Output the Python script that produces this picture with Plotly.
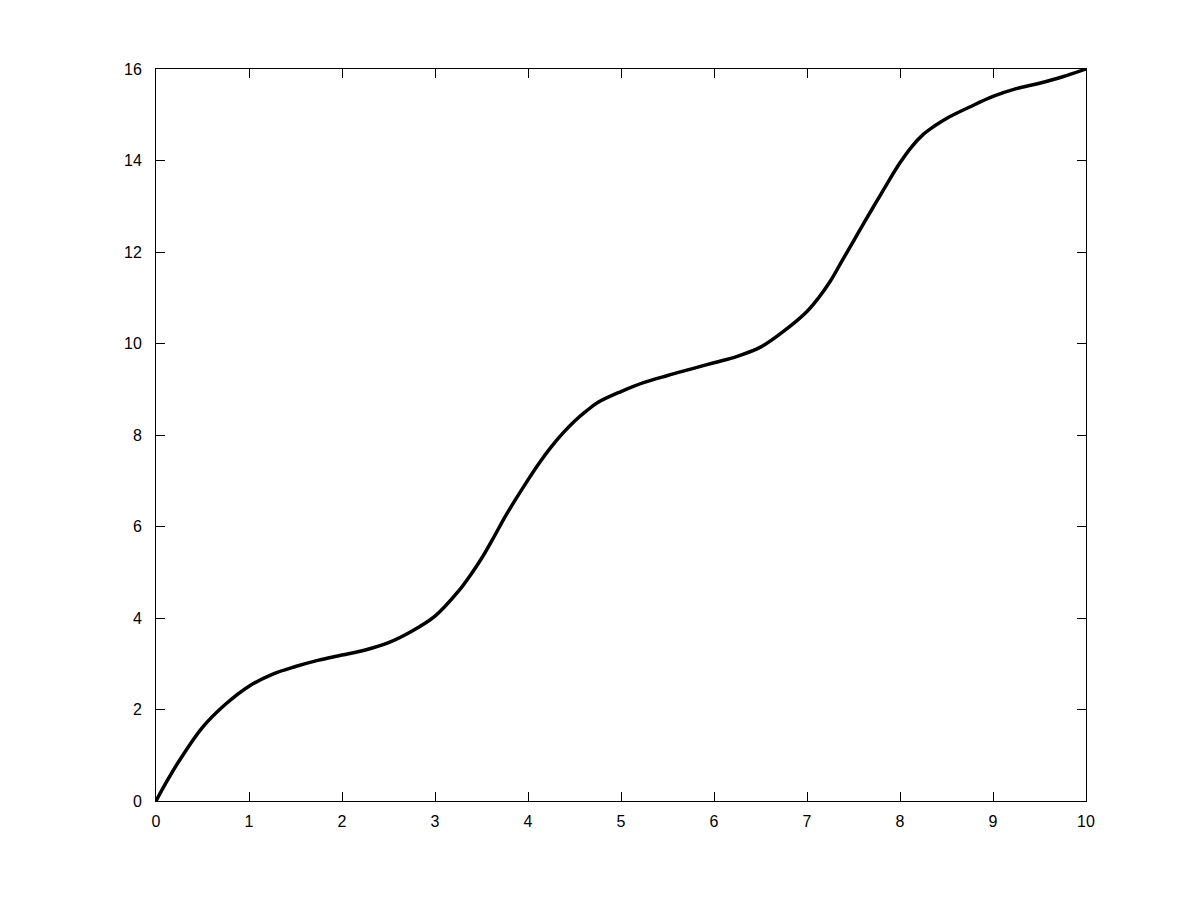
import plotly.graph_objects as go

x_vals = [0, 0.125, 0.25, 0.5, 0.75, 1, 1.25, 1.5, 1.75, 2, 2.25, 2.5, 2.75, 3, 3.25, 3.375, 3.5, 3.625, 3.75,
          3.875, 4, 4.125, 4.25, 4.375, 4.5, 4.625, 4.75, 5, 5.25, 5.5, 5.75, 6, 6.25, 6.5, 6.75, 7, 7.125, 7.25,
          7.375, 7.5, 7.625, 7.75, 7.875, 8, 8.125, 8.25, 8.375, 8.5, 8.75, 9, 9.25, 9.5, 9.75, 10]
y_vals = [0, 0.46, 0.88, 1.61, 2.12, 2.51, 2.77, 2.94, 3.08, 3.19, 3.30, 3.46, 3.71, 4.04, 4.58, 4.92, 5.30, 5.74, 6.20,
          6.62, 7.02, 7.40, 7.74, 8.04, 8.30, 8.52, 8.71, 8.95, 9.15, 9.30, 9.44, 9.58, 9.72, 9.92, 10.27, 10.70, 11.00, 11.36,
          11.80, 12.24, 12.68, 13.11, 13.54, 13.95, 14.30, 14.57, 14.76, 14.92, 15.17, 15.40, 15.57, 15.69, 15.83, 16.0]
x_ticks = [0, 1, 2, 3, 4, 5, 6, 7, 8, 9, 10]
y_ticks = [0, 2, 4, 6, 8, 10, 12, 14, 16]

fig = go.Figure()
fig.add_trace(go.Scatter(x=x_vals, y=y_vals, mode="lines",
                         line=dict(color="black", width=3.5, shape="spline", smoothing=1.0),
                         showlegend=False))

axis_common = dict(showgrid=False, zeroline=False, showline=True, linecolor="black", linewidth=1,
                   mirror="ticks", ticks="inside", ticklen=9, tickcolor="black", tickwidth=1,
                   tickfont=dict(family="Liberation Sans, Arial, sans-serif", size=16, color="black"))

fig.update_layout(
    width=1200, height=900,
    margin=dict(l=148, r=122, t=61, b=107),
    paper_bgcolor="white", plot_bgcolor="white",
    xaxis=dict(range=[0, 10], tickvals=x_ticks, ticklabelstandoff=6, **axis_common),
    yaxis=dict(range=[0, 16], tickvals=y_ticks, ticklabelstandoff=10, **axis_common),
)

fig.write_html("out.html")
